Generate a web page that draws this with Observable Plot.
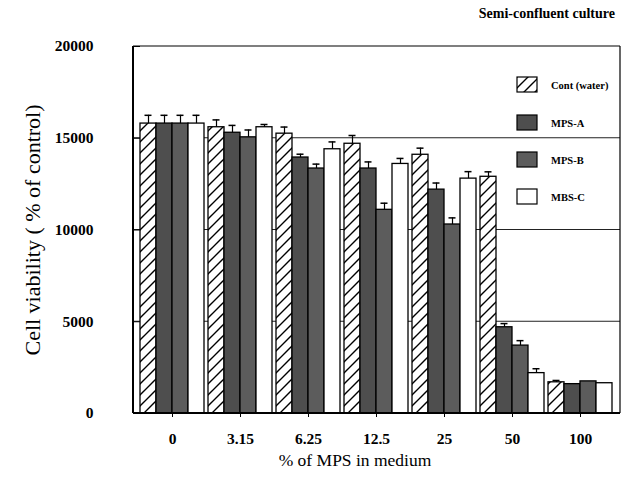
<!DOCTYPE html>
<html><head><meta charset="utf-8">
<script src="https://cdn.jsdelivr.net/npm/d3@7"></script>
<script src="https://cdn.jsdelivr.net/npm/@observablehq/plot@0.6"></script>
<style>body{margin:0;background:#fff} svg text{font-family:"Liberation Serif","DejaVu Serif",serif !important}</style>
</head><body><div id="chart"></div>
<script>
const categories = ["0", "3.15", "6.25", "12.5", "25", "50", "100"];
const series = ["Cont (water)", "MPS-A", "MPS-B", "MBS-C"];
const contWater = [15800, 15600, 15250, 14700, 14100, 12900, 1700];
const mpsA = [15800, 15300, 13950, 13350, 12200, 4700, 1600];
const mpsB = [15800, 15050, 13350, 11100, 10300, 3700, 1750];
const mbsC = [15800, 15600, 14400, 13600, 12800, 2200, 1650];
const contErr = [450, 400, 360, 450, 360, 270, 100];
const mpsAErr = [450, 400, 180, 360, 360, 200, 0];
const mpsBErr = [450, 400, 240, 360, 360, 270, 0];
const mbsCErr = [450, 150, 400, 300, 380, 240, 0];
const yTicks = [0, 5000, 10000, 15000, 20000];
const gridValues = [5000, 10000, 15000];
const title = "Semi-confluent culture";
const yLabel = "Cell viability ( % of control)";
const xLabel = "% of MPS in medium";

const values = [contWater, mpsA, mpsB, mbsC];
const errs = [contErr, mpsAErr, mpsBErr, mbsCErr];
const fills = ["url(#hatch)", "#4e4e4e", "#5c5c5c", "#ffffff"];

const rows = [];
categories.forEach((c, i) => series.forEach((s, j) =>
  rows.push({cat: c, series: s, value: values[j][i], err: errs[j][i]})));

const errTop = d => d.err > 0 ? d.value + d.err : NaN;

const plot = Plot.plot({
  width: 632, height: 478,
  marginLeft: 133, marginRight: 12, marginTop: 46, marginBottom: 65,
  style: {fontFamily: "Liberation Serif, serif", fontSize: "15.5px", fontWeight: "bold", background: "#fff", color: "#000"},
  facet: {data: rows, x: "cat"},
  fx: {domain: categories, paddingInner: 0.055, paddingOuter: 0.06, axis: "bottom", label: null, tickSize: 4, tickPadding: 15},
  x: {domain: series, padding: 0, axis: null},
  y: {domain: [0, 20000], ticks: yTicks, tickFormat: "d", label: null, tickSize: 6, tickPadding: 41},
  color: {domain: series, range: fills},
  marks: [
    Plot.barY(rows, {x: "series", y: "value", fill: "series", stroke: "#000", strokeWidth: 1.3}),
    Plot.ruleX(rows, {x: "series", y1: "value", y2: errTop, stroke: "#000", strokeWidth: 1.2}),
    Plot.tickY(rows, {x: "series", y: errTop, insetLeft: 4.5, insetRight: 4.5, stroke: "#000", strokeWidth: 1.5})
  ]
});

const svg = d3.select(plot);
const ys = plot.scale("y");
const fxs = plot.scale("fx");
const [xa, xb] = [fxs.range[0], fxs.range[1]];
const [yBottom, yTop] = [ys.range[0], ys.range[1]];

const defs = svg.insert("defs", ":first-child");
const pat = defs.append("pattern").attr("id", "hatch").attr("patternUnits", "userSpaceOnUse")
  .attr("width", 11).attr("height", 11);
pat.append("rect").attr("width", 11).attr("height", 11).attr("fill", "#fff");
pat.append("path").attr("d", "M-2,2 L2,-2 M0,11 L11,0 M9,13 L13,9")
  .attr("stroke", "#000").attr("stroke-width", 1.4);

// gridlines under bars
const grid = svg.insert("g", "g");
grid.selectAll("line").data(gridValues).join("line")
  .attr("x1", xa).attr("x2", xb)
  .attr("y1", d => ys.apply(d)).attr("y2", d => ys.apply(d))
  .attr("stroke", "#222").attr("stroke-width", 1);

// frame
const fr = svg.append("g").attr("stroke", "#000").attr("fill", "none");
fr.append("line").attr("x1", xa).attr("x2", xb).attr("y1", yTop).attr("y2", yTop).attr("stroke-width", 1.2);
fr.append("line").attr("x1", xb).attr("x2", xb).attr("y1", yTop).attr("y2", yBottom).attr("stroke-width", 1.2);
fr.append("line").attr("x1", xa).attr("x2", xa).attr("y1", yTop).attr("y2", yBottom).attr("stroke-width", 2);
fr.append("line").attr("x1", xa).attr("x2", xb).attr("y1", yBottom).attr("y2", yBottom).attr("stroke-width", 2);

// legend
const lg = svg.append("g").attr("font-size", "10.5px").attr("font-weight", "bold").attr("text-anchor", "start");
const legendY = [85, 123, 160, 197];
series.forEach((s, j) => {
  lg.append("rect").attr("x", 517).attr("y", legendY[j] - 8).attr("width", 20).attr("height", 15)
    .attr("fill", fills[j]).attr("stroke", "#000").attr("stroke-width", 1.2);
  lg.append("text").attr("x", 551).attr("y", legendY[j] + 3.5).attr("text-anchor", "start").text(s);
});

// titles
svg.append("text").attr("x", 615).attr("y", 18).attr("text-anchor", "end")
  .attr("font-size", "14px").attr("font-weight", "bold").text(title);
svg.append("text").attr("transform", "translate(40,230) rotate(-90)").attr("text-anchor", "middle")
  .attr("font-size", "22px").attr("font-weight", "normal").text(yLabel);
svg.append("text").attr("x", 355).attr("y", 466).attr("text-anchor", "middle")
  .attr("font-size", "17.5px").attr("font-weight", "normal").text(xLabel);

document.getElementById("chart").appendChild(plot);
</script>
</body></html>
